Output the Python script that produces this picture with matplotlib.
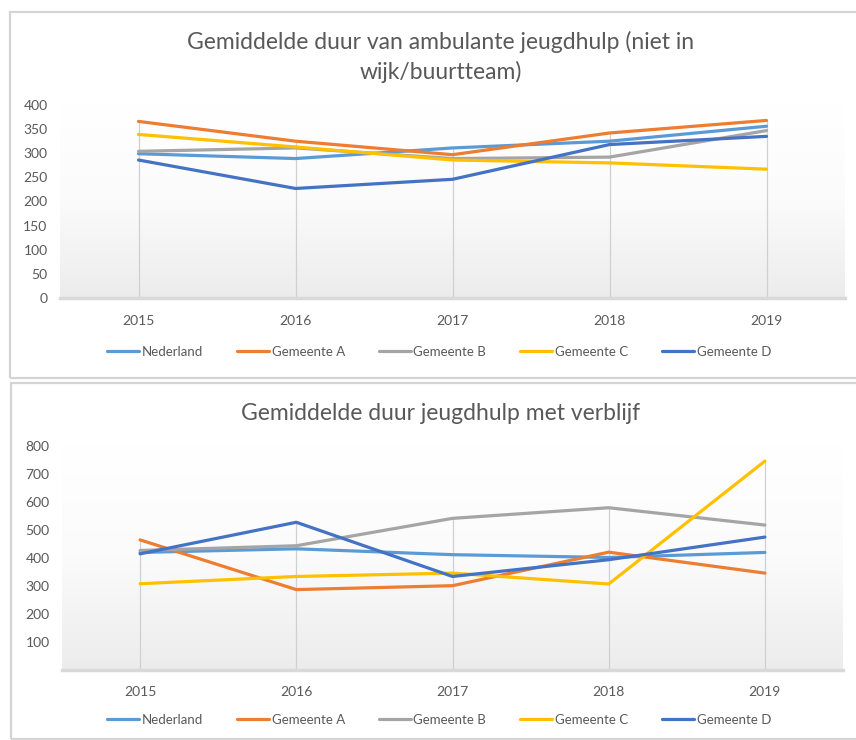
import numpy as np
import matplotlib
matplotlib.use("Agg")
import matplotlib.pyplot as plt
from matplotlib.patches import Rectangle

plt.rcParams['font.family'] = ['Lato', 'DejaVu Sans']

jaren = [2015, 2016, 2017, 2018, 2019]
reeksen = ["Nederland", "Gemeente A", "Gemeente B", "Gemeente C", "Gemeente D"]
kleuren = ["#5B9BD5", "#ED7D31", "#A5A5A5", "#FFC000", "#4472C4"]

# ambulante jeugdhulp (niet in wijk/buurtteam)
amb_nederland = [299, 289, 311, 325, 356]
amb_gemeente_a = [366, 325, 297, 342, 368]
amb_gemeente_b = [304, 311, 289, 292, 347]
amb_gemeente_c = [339, 313, 286, 280, 267]
amb_gemeente_d = [286, 227, 246, 318, 335]

# jeugdhulp met verblijf
verb_nederland = [419, 432, 411, 401, 419]
verb_gemeente_a = [464, 286, 300, 420, 345]
verb_gemeente_b = [426, 443, 541, 579, 517]
verb_gemeente_c = [307, 333, 345, 306, 746]
verb_gemeente_d = [414, 527, 333, 393, 474]

tekst = "#595959"

fig = plt.figure(figsize=(8.56, 7.4), dpi=100)

# kaders om beide grafieken
for (x0, y0, x1, y1) in [(10, 12, 870, 378), (11, 383, 870, 739)]:
    fig.patches.append(Rectangle((x0 / 856, 1 - y1 / 740), (x1 - x0) / 856, (y1 - y0) / 740,
                                 transform=fig.transFigure, fill=False,
                                 edgecolor="#d4d4d4", linewidth=1.6))

verloop = matplotlib.colors.LinearSegmentedColormap.from_list(
    "verloop", ["#ffffff", "#fbfbfb", "#ececec"])


def teken(pos, data, ymax, ticks, titel, titel_y, legenda_y):
    ax = fig.add_axes(pos)
    # lichte verloop-achtergrond van het plotgebied (wit boven, grijs onder)
    grad = np.linspace(0.0, 1.0, 256).reshape(-1, 1)
    ax.imshow(grad, extent=(2014.5, 2019.5, 0, ymax), aspect="auto",
              cmap=verloop, zorder=0, origin="upper", vmin=0, vmax=1)
    hoogste = np.max(np.array(data), axis=0)
    ax.vlines(jaren, 0, hoogste, color="#d0d0d0", linewidth=0.9, zorder=1)
    for waarden, naam, kleur in zip(data, reeksen, kleuren):
        ax.plot(jaren, waarden, color=kleur, linewidth=2.3, label=naam,
                solid_capstyle="round", zorder=3)
    ax.set_xlim(2014.5, 2019.5)
    ax.set_ylim(0, ymax)
    ax.set_yticks(ticks)
    ax.set_xticks(jaren)
    for s in ["top", "right", "left"]:
        ax.spines[s].set_visible(False)
    ax.spines["bottom"].set_color("#d9d9d9")
    ax.spines["bottom"].set_linewidth(2.5)
    ax.tick_params(length=0, labelsize=10, colors=tekst)
    ax.tick_params(axis="x", pad=12)
    ax.tick_params(axis="y", pad=9)
    fig.text(0.515, titel_y, titel, ha="center", va="center", fontsize=16.5,
             color=tekst, linespacing=1.45)
    fig.legend(*ax.get_legend_handles_labels(), loc="center",
               bbox_to_anchor=(0.513, legenda_y), ncol=5, frameon=False,
               fontsize=9.5, labelcolor=tekst, handlelength=2.4,
               handletextpad=0.2, columnspacing=2.6)
    return ax


teken([60 / 856, 1 - 298 / 740, 785 / 856, 193 / 740],
      [amb_nederland, amb_gemeente_a, amb_gemeente_b, amb_gemeente_c, amb_gemeente_d],
      400, np.arange(0, 401, 50),
      "Gemiddelde duur van ambulante jeugdhulp (niet in\nwijk/buurtteam)",
      1 - 57 / 740, 1 - 352 / 740)

teken([62 / 856, 1 - 669.5 / 740, 781 / 856, 223.5 / 740],
      [verb_nederland, verb_gemeente_a, verb_gemeente_b, verb_gemeente_c, verb_gemeente_d],
      800, np.arange(100, 801, 100),
      "Gemiddelde duur jeugdhulp met verblijf",
      1 - 413 / 740, 1 - 720 / 740)

fig.savefig("out.png", dpi=100)
